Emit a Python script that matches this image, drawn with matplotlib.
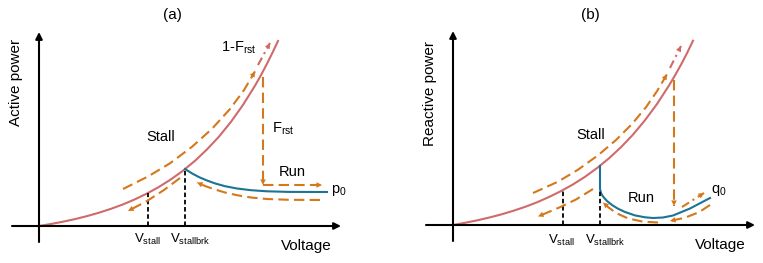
import matplotlib
matplotlib.use('Agg')
import matplotlib.pyplot as plt

plt.rcParams['font.family'] = ['Liberation Sans', 'DejaVu Sans']
plt.rcParams['mathtext.fontset'] = 'custom'
plt.rcParams['mathtext.rm'] = 'Liberation Sans'

RED = '#cf6b6b'
BLUE = '#1b7396'
ORANGE = '#d5771b'
TIP = '#d06a62'

# panel (a): active power, schematic values (voltage, power)
a_red_v = [0, 12, 24, 36, 48, 60, 72, 84, 96, 108, 120, 132, 144, 156, 168, 180, 192, 204, 216, 222, 228, 234, 239]
a_red_p = [0, 2.0, 4.3, 6.9, 9.9, 13.3, 17.2, 21.6, 26.7, 32.5, 39.1, 46.7, 55.3, 65.2, 76.6, 89.4,
           104.2, 121.1, 140.3, 150.9, 162.3, 174.4, 185]
a_blue_v = [146, 153, 160, 168, 176, 186, 198, 212, 228, 250, 288]
a_blue_p = [57, 52.6, 48.9, 45.5, 42.6, 39.8, 37.5, 35.8, 34.7, 34.1, 34]
a_vstall = [109, 33]
a_vbrk = [146, 57]
a_up_v = [84, 109, 131, 153, 173, 191, 205, 216]
a_up_p = [37, 49.5, 62.7, 79.2, 97.2, 117, 135.9, 154.6]
a_tip_v = [219, 231]
a_tip_p = [161, 183]
a_down_v = [141, 125, 108, 89]
a_down_p = [48, 36, 25, 15]
a_back_v = [281, 250, 228, 212, 198, 186, 176, 166, 158]
a_back_p = [26, 26.2, 27, 28.5, 30.8, 33.5, 36.5, 40, 43.5]
a_frst_v = [224, 224, 283]
a_frst_p = [149, 41, 41]

# panel (b): reactive power
b_red_v = [0, 12, 24, 36, 48, 60, 72, 84, 96, 108, 120, 132, 144, 156, 168, 180, 192, 204, 216, 222, 228, 234, 240]
b_red_p = [0, 2.2, 4.6, 7.4, 10.5, 14.1, 18.1, 22.7, 28.0, 33.9, 40.6, 48.2, 56.9, 66.7, 77.8, 90.4,
           104.8, 121.0, 139.5, 149.6, 160.3, 171.8, 184.3]
b_blue_v = [147, 147, 148, 150, 154, 159, 165, 172, 182, 192, 200, 210, 220, 237, 257]
b_blue_p = [59, 36, 32, 28.5, 24, 20, 16.3, 13, 9.6, 7.7, 7, 7.5, 9.5, 16.5, 27]
b_vstall = [110, 35]
b_vbrk = [147, 36]
b_up_v = [80, 105, 125, 145, 163, 179, 193, 204, 214]
b_up_p = [32, 43.3, 55.3, 69.7, 85, 101, 117.8, 133.8, 150.8]
b_tip_v = [217, 228]
b_tip_p = [157, 179]
b_down_v = [140, 123, 107, 85]
b_down_p = [36, 25.5, 17.8, 8.5]
b_drop_v = [221, 221]
b_drop_p = [145, 19]
b_back1_v = [257, 246, 232, 217]
b_back1_p = [20, 12.8, 7.3, 4]
b_back2_v = [205, 190, 175, 163, 155, 150]
b_back2_p = [2.5, 3.3, 6.6, 12, 18, 22.5]
b_rise_v = [229, 251]
b_rise_p = [18, 32]

fig = plt.figure(figsize=(7.63, 2.63), dpi=100)
ax_a = fig.add_axes([0, 0, 0.5, 1])
ax_b = fig.add_axes([0.5, 0, 0.5, 1])
ax_a.set_xlim(-39, 342.5)
ax_a.set_ylim(-37, 226)
ax_b.set_xlim(-71.5, 310)
ax_b.set_ylim(-38, 225)


def head(ax, v, p, c, ms=10):
    ax.annotate('', xy=(v[-1], p[-1]), xytext=(v[-2], p[-2]),
                arrowprops=dict(arrowstyle='-|>', color=c, lw=0, mutation_scale=ms,
                                shrinkA=0, shrinkB=0))


def dashed(ax, v, p, c=ORANGE, tip=True, dash=(5, 2.5)):
    ax.plot(v, p, color=c, lw=1.5, dashes=dash)
    if tip:
        head(ax, v, p, c)


def frame(ax):
    ax.annotate('', xy=(302, 0), xytext=(-27, 0),
                arrowprops=dict(arrowstyle='-|>', color='black', lw=1.5, mutation_scale=10,
                                shrinkA=0, shrinkB=0))
    ax.annotate('', xy=(0, 194), xytext=(0, -16),
                arrowprops=dict(arrowstyle='-|>', color='black', lw=1.5, mutation_scale=10,
                                shrinkA=0, shrinkB=0))
    ax.axis('off')


for ax in (ax_a, ax_b):
    frame(ax)

# (a)
ax_a.plot(a_red_v, a_red_p, color=RED, lw=1.5)
ax_a.plot(a_blue_v, a_blue_p, color=BLUE, lw=1.5)
for v, p in (a_vstall, a_vbrk):
    ax_a.plot([v, v], [0, p], color='black', lw=1.3, dashes=(2.5, 1.5))
dashed(ax_a, a_up_v, a_up_p)
dashed(ax_a, a_tip_v, a_tip_p, c=TIP, dash=(4, 2, 1, 2))
dashed(ax_a, a_down_v, a_down_p)
dashed(ax_a, a_back_v, a_back_p)
ax_a.plot(a_frst_v[:2], a_frst_p[:2], color=ORANGE, lw=1.5, dashes=(5, 2.5))
head(ax_a, a_frst_v[:2], a_frst_p[:2], ORANGE)
dashed(ax_a, a_frst_v[1:], a_frst_p[1:])

ax_a.text(133, 211, '(a)', fontsize=11, ha='center', va='center')
ax_a.text(-23, 144, 'Active power', fontsize=11, rotation=90, ha='center', va='center')
ax_a.text(267, -20, 'Voltage', fontsize=11, ha='center', va='center')
ax_a.text(108, -13, r'$\mathregular{V_{stall}}$', fontsize=9.5, ha='center', va='center')
ax_a.text(151, -13, r'$\mathregular{V_{stallbrk}}$', fontsize=9.5, ha='center', va='center')
ax_a.text(122, 89, 'Stall', fontsize=10.5, ha='center', va='center')
ax_a.text(253, 54, 'Run', fontsize=10.5, ha='center', va='center')
ax_a.text(244, 97, r'$\mathregular{F_{rst}}$', fontsize=10.5, ha='center', va='center')
ax_a.text(200, 178, r'$\mathregular{1\text{-}F_{rst}}$', fontsize=10.5, ha='center', va='center')
ax_a.text(300, 36, r'$\mathregular{p_0}$', fontsize=10.5, ha='center', va='center')

# (b)
ax_b.plot(b_red_v, b_red_p, color=RED, lw=1.5)
ax_b.plot(b_blue_v, b_blue_p, color=BLUE, lw=1.5)
for v, p in (b_vstall, b_vbrk):
    ax_b.plot([v, v], [0, p], color='black', lw=1.3, dashes=(2.5, 1.5))
dashed(ax_b, b_up_v, b_up_p)
dashed(ax_b, b_tip_v, b_tip_p, c=TIP, dash=(4, 2, 1, 2))
dashed(ax_b, b_down_v, b_down_p)
dashed(ax_b, b_drop_v, b_drop_p)
dashed(ax_b, b_back1_v, b_back1_p)
dashed(ax_b, b_back2_v, b_back2_p)
dashed(ax_b, b_rise_v, b_rise_p, dash=(4, 2, 1, 2))

ax_b.text(137, 210, '(b)', fontsize=11, ha='center', va='center')
ax_b.text(-23, 132, 'Reactive power', fontsize=11, rotation=90, ha='center', va='center')
ax_b.text(267, -20, 'Voltage', fontsize=11, ha='center', va='center')
ax_b.text(108, -15, r'$\mathregular{V_{stall}}$', fontsize=9.5, ha='center', va='center')
ax_b.text(152, -15, r'$\mathregular{V_{stallbrk}}$', fontsize=9.5, ha='center', va='center')
ax_b.text(138, 90, 'Stall', fontsize=10.5, ha='center', va='center')
ax_b.text(188, 27, 'Run', fontsize=10.5, ha='center', va='center')
ax_b.text(266, 35, r'$\mathregular{q_0}$', fontsize=10.5, ha='center', va='center')

fig.savefig('out.png', dpi=100)
